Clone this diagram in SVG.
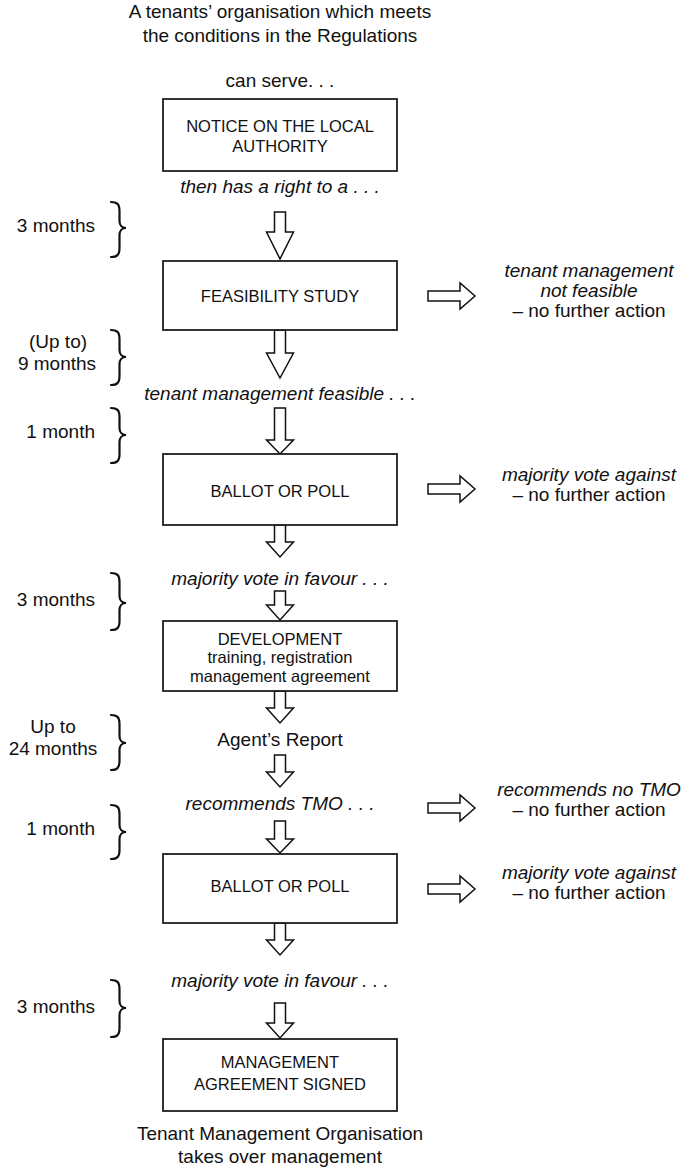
<svg xmlns="http://www.w3.org/2000/svg" width="686" height="1171" viewBox="0 0 686 1171">
<style>
text{font-family:"Liberation Sans",Arial,Helvetica,sans-serif;fill:#111;font-size:19px}
.c{text-anchor:middle}
.r{text-anchor:end}
.i{font-style:italic}
.bx{font-size:16.5px;text-anchor:middle}
.box{fill:#fff;stroke:#111;stroke-width:1.7}
.arr{fill:#fff;stroke:#111;stroke-width:1.5;stroke-linejoin:miter}
.brace{fill:none;stroke:#111;stroke-width:2.2;stroke-linecap:round}
</style>
<rect width="686" height="1171" fill="#fff"/>
<g id="title">
<text class="c" x="280" y="18">A tenants’ organisation which meets</text>
<text class="c" x="280" y="42">the conditions in the Regulations</text>
<text class="c" x="280" y="87">can serve. . .</text>
</g>
<g id="connectors">
<polygon class="arr" points="274.5,212 285.5,212 285.5,232 293.5,232 280,259 266.5,232 274.5,232"/>
<polygon class="arr" points="274.5,330 285.5,330 285.5,353 293.5,353 280,378 266.5,353 274.5,353"/>
<polygon class="arr" points="274.5,408 285.5,408 285.5,440 293.5,440 280,454 266.5,440 274.5,440"/>
<polygon class="arr" points="274.5,525 285.5,525 285.5,542 293.5,542 280,557 266.5,542 274.5,542"/>
<polygon class="arr" points="274.5,591 285.5,591 285.5,605 293.5,605 280,620 266.5,605 274.5,605"/>
<polygon class="arr" points="274.5,691 285.5,691 285.5,708 293.5,708 280,723 266.5,708 274.5,708"/>
<polygon class="arr" points="274.5,755 285.5,755 285.5,772 293.5,772 280,787 266.5,772 274.5,772"/>
<polygon class="arr" points="274.5,821 285.5,821 285.5,839 293.5,839 280,853 266.5,839 274.5,839"/>
<polygon class="arr" points="274.5,923 285.5,923 285.5,940 293.5,940 280,955 266.5,940 274.5,940"/>
<polygon class="arr" points="274.5,1003 285.5,1003 285.5,1023 293.5,1023 280,1038 266.5,1023 274.5,1023"/>
<polygon class="arr" points="428,291 460,291 460,283 475,296 460,309 460,301 428,301"/>
<polygon class="arr" points="428,484 460,484 460,476 475,489 460,502 460,494 428,494"/>
<polygon class="arr" points="428,803 460,803 460,795 475,808 460,821 460,813 428,813"/>
<polygon class="arr" points="428,884 460,884 460,876 475,889 460,902 460,894 428,894"/>
</g>
<g id="n-notice">
<rect class="box" x="163" y="99" width="234" height="72"/>
<text class="bx" x="280" y="132">NOTICE ON THE LOCAL</text>
<text class="bx" x="280" y="152">AUTHORITY</text>
</g>
<text class="c i" x="280" y="193">then has a right to a . . .</text>
<g id="n-feasibility">
<rect class="box" x="163" y="261" width="234" height="69"/>
<text class="bx" x="280" y="302">FEASIBILITY STUDY</text>
</g>
<g id="n-notfeasible">
<text class="c i" x="589" y="277">tenant management</text>
<text class="c i" x="589" y="297">not feasible</text>
<text class="c" x="589" y="317">– no further action</text>
</g>
<text class="c i" x="280" y="400">tenant management feasible . . .</text>
<g id="n-ballot1">
<rect class="box" x="163" y="454" width="234" height="71"/>
<text class="bx" x="280" y="497">BALLOT OR POLL</text>
</g>
<g id="n-against1">
<text class="c i" x="589" y="481">majority vote against</text>
<text class="c" x="589" y="501">– no further action</text>
</g>
<text class="c i" x="280" y="585">majority vote in favour . . .</text>
<g id="n-development">
<rect class="box" x="163" y="621" width="234" height="70"/>
<text class="bx" x="280" y="645">DEVELOPMENT</text>
<text class="bx" x="280" y="663">training, registration</text>
<text class="bx" x="280" y="682">management agreement</text>
</g>
<g id="n-agent">
<text class="c" x="280" y="746">Agent’s Report</text>
</g>
<text class="c i" x="280" y="810">recommends TMO . . .</text>
<g id="n-noTMO">
<text class="c i" x="589" y="796">recommends no TMO</text>
<text class="c" x="589" y="816">– no further action</text>
</g>
<g id="n-ballot2">
<rect class="box" x="163" y="854" width="234" height="69"/>
<text class="bx" x="280" y="892">BALLOT OR POLL</text>
</g>
<g id="n-against2">
<text class="c i" x="589" y="879">majority vote against</text>
<text class="c" x="589" y="899">– no further action</text>
</g>
<text class="c i" x="280" y="987">majority vote in favour . . .</text>
<g id="n-signed">
<rect class="box" x="163" y="1039" width="234" height="72"/>
<text class="bx" x="280" y="1068">MANAGEMENT</text>
<text class="bx" x="280" y="1090">AGREEMENT SIGNED</text>
</g>
<g id="n-tmo">
<text class="c" x="280" y="1140">Tenant Management Organisation</text>
<text class="c" x="280" y="1163">takes over management</text>
</g>
<g id="timings">
<path class="brace" d="M111,202 C117,202 119.5,204 119.5,211 L119.5,221 C119.5,225 122,228 126,228 C122,228 119.5,231 119.5,235 L119.5,248 C119.5,255 117,257 111,257"/>
<path class="brace" d="M111,330 C117,330 119.5,332 119.5,339 L119.5,350 C119.5,354 122,357 126,357 C122,357 119.5,360 119.5,364 L119.5,376 C119.5,383 117,385 111,385"/>
<path class="brace" d="M111,408 C117,408 119.5,410 119.5,417 L119.5,428 C119.5,432 122,435 126,435 C122,435 119.5,438 119.5,442 L119.5,454 C119.5,461 117,463 111,463"/>
<path class="brace" d="M111,573 C117,573 119.5,575 119.5,582 L119.5,596 C119.5,600 122,603 126,603 C122,603 119.5,606 119.5,610 L119.5,621 C119.5,628 117,630 111,630"/>
<path class="brace" d="M111,715 C117,715 119.5,717 119.5,724 L119.5,736 C119.5,740 122,743 126,743 C122,743 119.5,746 119.5,750 L119.5,761 C119.5,768 117,770 111,770"/>
<path class="brace" d="M111,805 C117,805 119.5,807 119.5,814 L119.5,825 C119.5,829 122,832 126,832 C122,832 119.5,835 119.5,839 L119.5,850 C119.5,857 117,859 111,859"/>
<path class="brace" d="M111,980 C117,980 119.5,982 119.5,989 L119.5,1001 C119.5,1005 122,1008 126,1008 C122,1008 119.5,1011 119.5,1015 L119.5,1028 C119.5,1035 117,1037 111,1037"/>
<text class="r" x="95" y="232">3 months</text>
<text class="c" x="58" y="348">(Up to)</text>
<text class="c" x="57" y="370">9 months</text>
<text class="r" x="95" y="438">1 month</text>
<text class="r" x="95" y="606">3 months</text>
<text class="c" x="53" y="733">Up to</text>
<text class="c" x="53" y="755">24 months</text>
<text class="r" x="95" y="835">1 month</text>
<text class="r" x="95" y="1013">3 months</text>
</g>
</svg>
